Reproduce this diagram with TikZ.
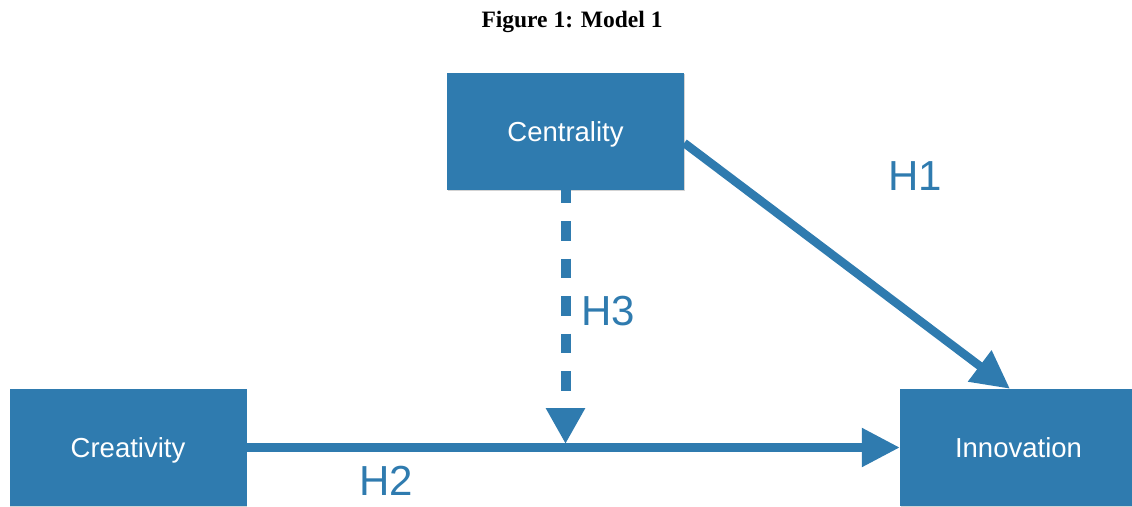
\documentclass[tikz,border=0pt]{standalone}
\usepackage{fontspec}
\setmainfont{Liberation Sans}
\newfontfamily\titlefont{Liberation Serif}
\usetikzlibrary{arrows.meta,shadows}
\definecolor{boxblue}{RGB}{47,123,175}
\tikzset{
  varbox/.style={fill=boxblue, draw=none, minimum width=237pt, minimum height=117pt,
    inner sep=0pt, text=white, text depth=0pt, font=\fontsize{27.5}{31}\selectfont,
    drop shadow={shadow xshift=0.6pt, shadow yshift=-1.2pt, opacity=0.35}},
  hyp/.style={text=boxblue, font=\fontsize{42}{46}\selectfont, inner sep=0pt, text depth=0pt},
  conn/.style={draw=boxblue, line width=8.5pt, -{Triangle[length=38pt,width=37pt]}},
  dconn/.style={draw=boxblue, line width=10pt, dash pattern=on 19.5pt off 18pt, dash phase=6.5pt,
    -{Triangle[length=36pt,width=37pt]}}
}
\begin{document}
\begin{tikzpicture}[x=1pt,y=-1pt]
\useasboundingbox (0,0) rectangle (1132,506);
\node[font=\titlefont\bfseries\fontsize{23.5}{26}\selectfont, inner sep=0pt] (title) at (572,22) {Figure 1: Model 1};
\node[varbox] (cen) at (565.5,131.5) {Centrality};
\node[varbox] (cre) at (128,447.5) {Creativity};
\node[varbox] (inn) at (1018.5,447.5) {Innovation};
\coordinate (m) at ([yshift=3.5pt]cen.south |- cre.east);
\draw[conn] (cre.east) -- (inn.west);
\draw[conn] ([yshift=-11.5pt]cen.east) -- ([xshift=-8.5pt]inn.north);
\draw[dconn] (cen.south) -- (m);
\node[hyp] (h1) at (915.5,176.5) {H1};
\node[hyp] (h3) at (608,310.5) {H3};
\node[hyp] (h2) at (386.5,481) {H2};
\end{tikzpicture}
\end{document}
